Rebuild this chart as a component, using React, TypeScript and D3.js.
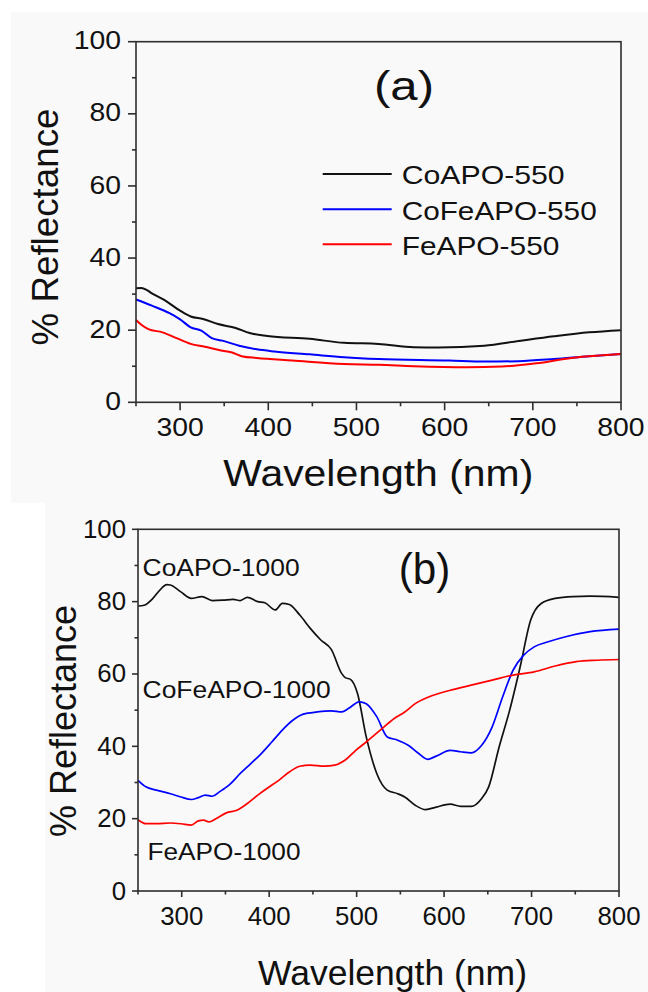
import React from 'react';
import * as d3 from 'd3';

type Pt = [number, number];

// ---------- DATA ----------
const xTicks = [300, 400, 500, 600, 700, 800];
const xMinor = [250, 350, 450, 550, 650, 750];
const yTicks = [0, 20, 40, 60, 80, 100];
const yMinor = [10, 30, 50, 70, 90];

const legendA = ['CoAPO-550', 'CoFeAPO-550', 'FeAPO-550'];
const labelsB = ['CoAPO-1000', 'CoFeAPO-1000', 'FeAPO-1000'];

const coapo550: Pt[] = [[250,31.6],[256,31.7],[262,31.2],[268,30.2],[282,28.4],[300,25.4],[312,23.8],[326,23.1],[343,21.7],[363,20.6],[379,19.2],[399,18.4],[447,17.6],[486,16.5],[525,16.2],[565,15.3],[593,15.2],[645,15.7],[684,17.0],[724,18.3],[764,19.4],[800,20.0]];
const cofeapo550: Pt[] = [[250,28.5],[268,26.8],[288,24.7],[300,23.0],[312,20.8],[324,19.9],[336,17.8],[348,17.1],[367,15.7],[387,14.7],[407,14.1],[447,13.3],[486,12.5],[525,12.0],[605,11.6],[645,11.3],[684,11.4],[724,12.0],[764,12.8],[800,13.4]];
const feapo550: Pt[] = [[250,22.8],[256,21.5],[264,20.3],[280,19.4],[296,17.8],[312,16.2],[328,15.4],[344,14.5],[359,13.8],[371,12.7],[387,12.3],[427,11.6],[486,10.6],[525,10.4],[565,10.0],[625,9.7],[665,9.9],[704,10.8],[744,12.3],[784,13.1],[800,13.4]];

const coapo1000: Pt[] = [[250,78.8],[257,79.0],[267,80.9],[275,83.2],[283,84.7],[287,84.6],[299,82.7],[311,80.9],[323,81.4],[335,80.3],[347,80.4],[359,80.6],[367,80.3],[375,81.2],[387,80.0],[395,79.7],[407,77.7],[415,79.5],[423,79.2],[435,76.3],[447,72.6],[459,69.4],[471,66.8],[483,60.1],[487,59.0],[493,58.5],[501,54.6],[511,42.6],[523,32.5],[535,27.9],[547,26.9],[555,26.0],[567,23.7],[579,22.5],[591,23.2],[607,24.0],[619,23.4],[631,23.4],[643,25.6],[651,28.8],[663,39.9],[675,50.0],[687,62.0],[699,74.9],[711,79.5],[727,80.9],[747,81.4],[767,81.5],[800,81.2]];
const cofeapo1000: Pt[] = [[250,30.6],[259,28.8],[271,27.9],[287,26.9],[299,26.0],[311,25.3],[319,25.8],[327,26.5],[335,26.2],[343,27.4],[355,29.5],[367,32.5],[379,35.2],[391,38.0],[403,41.2],[415,44.5],[427,47.2],[439,48.9],[455,49.5],[471,49.8],[483,49.5],[491,50.5],[503,52.3],[511,51.8],[523,48.2],[535,42.6],[547,41.7],[559,40.3],[571,38.0],[581,36.4],[591,37.3],[607,38.9],[619,38.5],[631,38.2],[643,40.3],[655,45.4],[667,53.7],[679,61.1],[691,65.2],[703,67.5],[719,68.9],[739,70.3],[767,71.7],[800,72.4]];
const feapo1000: Pt[] = [[250,19.7],[259,18.6],[271,18.6],[287,18.8],[299,18.6],[311,18.2],[319,19.4],[325,19.6],[331,19.1],[339,20.0],[351,21.6],[363,22.3],[375,24.2],[387,26.5],[399,28.6],[411,30.6],[423,32.9],[435,34.5],[447,34.8],[463,34.5],[475,34.8],[487,36.2],[499,38.9],[511,41.2],[527,44.5],[543,47.7],[555,49.5],[567,51.8],[583,53.7],[607,55.5],[631,56.9],[655,58.3],[679,59.7],[703,60.6],[727,62.2],[751,63.4],[775,63.8],[800,64.0]];

const colors = ['#111111', '#0000ff', '#ff0000'];

// ---------- HELPERS ----------
const FONT = "'Liberation Sans', Arial, Helvetica, sans-serif";
const TXT = '#111';
const AX = '#2e2e2e';

type TProps = {
  x: number; y: number; size: number; children: string;
  anchor?: 'start' | 'middle' | 'end'; len?: number; rot?: boolean;
};
function T({ x, y, size, children, anchor = 'start', len, rot }: TProps) {
  return (
    <text
      x={x}
      y={y}
      fontSize={size}
      fontFamily={FONT}
      fill={TXT}
      textAnchor={anchor}
      textLength={len}
      lengthAdjust={len ? 'spacingAndGlyphs' : undefined}
      transform={rot ? `rotate(-90 ${x} ${y})` : undefined}
    >
      {children}
    </text>
  );
}

type PanelProps = {
  x0: number; x1: number; y0: number; y1: number;
  series: Pt[][]; lw: number;
  tickSize: number; tickStretch: number;
  majorLen: number; minorLen: number;
  yLabelEnd: number; yLabelDy: number; xLabelBase: number;
};

function Panel(p: PanelProps) {
  const x = d3.scaleLinear().domain([250, 800]).range([p.x0, p.x1]);
  const y = d3.scaleLinear().domain([0, 100]).range([p.y0, p.y1]);
  const line = d3.line<Pt>().x(d => x(d[0])).y(d => y(d[1])).curve(d3.curveMonotoneX);
  const digitW = (s: string) => s.length * 0.556 * p.tickSize * p.tickStretch;
  return (
    <g>
      {p.series.map((s, i) => (
        <path key={i} d={line(s) || ''} fill="none" stroke={colors[i]} strokeWidth={p.lw} strokeLinejoin="round" />
      ))}
      <rect x={p.x0} y={p.y1} width={p.x1 - p.x0} height={p.y0 - p.y1} fill="none" stroke={AX} strokeWidth={1.6} />
      {xTicks.map(t => (
        <line key={'xt' + t} x1={x(t)} x2={x(t)} y1={p.y0} y2={p.y0 + p.majorLen} stroke={AX} strokeWidth={1.6} />
      ))}
      {xMinor.map(t => (
        <line key={'xm' + t} x1={x(t)} x2={x(t)} y1={p.y0} y2={p.y0 + p.minorLen} stroke={AX} strokeWidth={1.6} />
      ))}
      {yTicks.map(t => (
        <line key={'yt' + t} x1={p.x0 - p.majorLen} x2={p.x0} y1={y(t)} y2={y(t)} stroke={AX} strokeWidth={1.6} />
      ))}
      {yMinor.map(t => (
        <line key={'ym' + t} x1={p.x0 - p.minorLen} x2={p.x0} y1={y(t)} y2={y(t)} stroke={AX} strokeWidth={1.6} />
      ))}
      {xTicks.map(t => (
        <T key={'xl' + t} x={x(t)} y={p.xLabelBase} size={p.tickSize} anchor="middle" len={digitW(String(t))}>
          {String(t)}
        </T>
      ))}
      {yTicks.map(t => (
        <T key={'yl' + t} x={p.yLabelEnd} y={y(t) + p.yLabelDy} size={p.tickSize} anchor="end" len={digitW(String(t))}>
          {String(t)}
        </T>
      ))}
    </g>
  );
}

export default function App() {
  // panel a geometry
  const ax0 = 136, ax1 = 621, ay0 = 402.3, ay1 = 41.7;
  // panel b geometry
  const bx0 = 138, bx1 = 619, by0 = 891, by1 = 529.3;
  const legY = [174, 209.3, 244.3];
  const legLen = [163, 195, 157.7];
  return (
    <svg width={648} height={992} style={{ position: 'absolute', left: 0, top: 0, background: '#fff' }}>
      <rect x={0} y={0} width={648} height={992} fill="#ffffff" />
      <rect x={11} y={12} width={637} height={491} fill="#f9f9f9" />
      <rect x={45} y={503} width={603} height={489} fill="#f9f9f9" />

      <Panel x0={ax0} x1={ax1} y0={ay0} y1={ay1} series={[coapo550, cofeapo550, feapo550]} lw={2}
        tickSize={26.5} tickStretch={1.07} majorLen={8} minorLen={4}
        yLabelEnd={121} yLabelDy={7.6} xLabelBase={436} />
      <Panel x0={bx0} x1={bx1} y0={by0} y1={by1} series={[coapo1000, cofeapo1000, feapo1000]} lw={1.7}
        tickSize={25.8} tickStretch={1.0} majorLen={6} minorLen={3.5}
        yLabelEnd={126} yLabelDy={8.5} xLabelBase={925} />

      {/* panel a texts */}
      <T x={404} y={100} size={40} anchor="middle" len={60}>(a)</T>
      {legendA.map((s, i) => (
        <g key={s}>
          <line x1={322.7} x2={391.7} y1={legY[i]} y2={legY[i]} stroke={colors[i]} strokeWidth={2} />
          <T x={401.7} y={legY[i] + 10.2} size={25.5} len={legLen[i]}>{s}</T>
        </g>
      ))}
      <T x={223.3} y={486} size={37} len={310}>Wavelength (nm)</T>
      <T x={57.5} y={227} size={37} anchor="middle" len={237} rot>% Reflectance</T>

      {/* panel b texts */}
      <T x={424.6} y={584} size={44} anchor="middle" len={51.6}>(b)</T>
      <T x={142.6} y={576} size={23} len={157}>{labelsB[0]}</T>
      <T x={142.6} y={698.3} size={23} len={188}>{labelsB[1]}</T>
      <T x={147.5} y={860} size={23} len={153}>{labelsB[2]}</T>
      <T x={258} y={985} size={35} len={269}>Wavelength (nm)</T>
      <T x={76.4} y={721} size={36} anchor="middle" len={232} rot>% Reflectance</T>
    </svg>
  );
}
